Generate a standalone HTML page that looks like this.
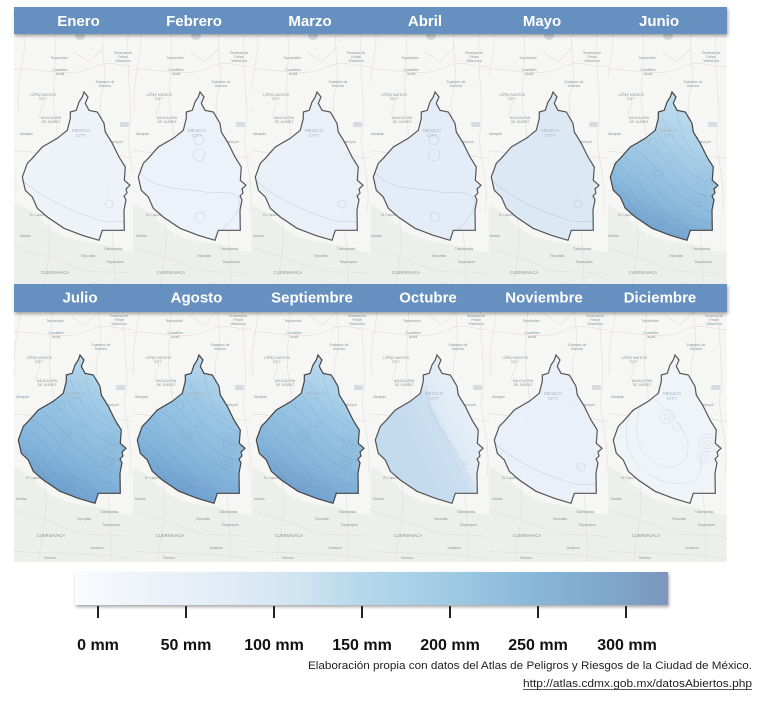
<!DOCTYPE html>
<html><head><meta charset="utf-8"><style>
html,body{margin:0;padding:0;background:#fff;}
svg{display:block;}
</style></head><body>
<svg width="763" height="701" viewBox="0 0 763 701" xmlns="http://www.w3.org/2000/svg" font-family="'Liberation Sans', sans-serif">
<defs>
  <path id="cdmx" d="M0,0 L4,5 L1.3,11.3 L5,18.3 L13.3,20 L20,31.3 L21.3,40 L28.3,51.3 L35,65 L41.3,75 L40.3,88.3 L46,93.3 L42,97 L43,101 L40,104 L42,108 L41.3,111.3 L40,118.3 L40.3,138.3 L18.3,138.3 L15,148.3 L-1.7,143.3 L-20,136.3 L-36.7,125 L-46.7,116.3 L-51.7,105 L-58.7,98.3 L-61.7,85 L-56.7,71.3 L-51.7,66.3 L-41.7,55 L-26.7,46.3 L-16.7,38.3 L-13.7,26.3 L-13.7,20 L-7.7,18.3 L-5,10 L-1.7,5 Z"/>
  <clipPath id="cc"><use href="#cdmx"/></clipPath>

  <linearGradient id="gJun" gradientUnits="userSpaceOnUse" x1="40" y1="10" x2="-20" y2="150">
    <stop offset="0" stop-color="#c4dff0"/>
    <stop offset="0.35" stop-color="#a7cee7"/>
    <stop offset="0.7" stop-color="#86b8dd"/>
    <stop offset="1" stop-color="#6496c7"/>
  </linearGradient>
  <linearGradient id="gJul" gradientUnits="userSpaceOnUse" x1="40" y1="20" x2="-20" y2="150">
    <stop offset="0" stop-color="#b4d6ec"/>
    <stop offset="0.35" stop-color="#93c3e3"/>
    <stop offset="0.7" stop-color="#7cb0da"/>
    <stop offset="1" stop-color="#6193c6"/>
  </linearGradient>
  <linearGradient id="gSep" gradientUnits="userSpaceOnUse" x1="40" y1="20" x2="-20" y2="150">
    <stop offset="0" stop-color="#bbdaee"/>
    <stop offset="0.35" stop-color="#96c5e4"/>
    <stop offset="0.7" stop-color="#7eb1da"/>
    <stop offset="1" stop-color="#6394c6"/>
  </linearGradient>
  <linearGradient id="gOct" gradientUnits="userSpaceOnUse" x1="-20" y1="100" x2="30" y2="75">
    <stop offset="0" stop-color="#c0d9ee"/>
    <stop offset="0.58" stop-color="#c8ddf0"/>
    <stop offset="0.68" stop-color="#dbe8f5"/>
    <stop offset="1" stop-color="#e2edf7"/>
  </linearGradient>
  <linearGradient id="gBar" x1="0" y1="0" x2="1" y2="0">
    <stop offset="0" stop-color="#fafbfd"/>
    <stop offset="0.1" stop-color="#eff4fa"/>
    <stop offset="0.25" stop-color="#e2ecf6"/>
    <stop offset="0.38" stop-color="#d0e4f1"/>
    <stop offset="0.48" stop-color="#b6d8ea"/>
    <stop offset="0.63" stop-color="#9fcbe3"/>
    <stop offset="0.78" stop-color="#87b6d9"/>
    <stop offset="0.92" stop-color="#7ea4ca"/>
    <stop offset="1" stop-color="#7b95be"/>
  </linearGradient>

  <filter id="sh" x="-5%" y="-50%" width="110%" height="200%">
    <feDropShadow dx="1" dy="2" stdDeviation="1.5" flood-color="#000" flood-opacity="0.35"/>
  </filter>

  <g id="bg">
    <rect x="-80" y="-65" width="140" height="285" fill="#f6f6f4"/>
    <path d="M-80,112 C-60,105 -45,130 -25,142 C-5,152 20,150 40,158 C50,162 55,158 60,160 L60,220 L-80,220 Z" fill="#edf0ea"/>
    <path d="M-80,30 C-72,50 -70,80 -66,100 L-80,110 Z" fill="#f0f2ee"/>
    <ellipse cx="-4" cy="-56" rx="5" ry="4" fill="#d3d8dc"/>
    <rect x="36" y="30" width="9" height="5" rx="1.5" fill="#d5dbe0"/>
    <g fill="none" stroke="#e4dcdc" stroke-width="0.6">
      <path d="M-80,-20 C-50,-30 -20,-10 10,-25 C30,-35 45,-20 60,-28"/>
      <path d="M-30,-65 C-25,-30 -35,0 -28,30 C-22,60 -40,90 -35,130 C-30,170 -45,190 -40,220"/>
      <path d="M20,-65 C15,-40 25,-20 18,0 C10,25 30,50 25,80 C20,110 35,150 30,220"/>
      <path d="M-80,60 C-50,55 -30,70 0,62 C25,55 40,70 60,65"/>
      <path d="M-80,150 C-55,160 -30,165 -10,175 C15,185 35,175 60,185"/>
      <path d="M-60,-65 C-55,-40 -70,-10 -65,20"/>
      <path d="M45,-65 C40,-30 50,10 45,40 C42,60 55,90 50,120"/>
      <path d="M-80,195 C-40,200 0,195 60,205"/>
      <path d="M-10,-40 L5,-30 L20,-45 M-50,0 L-40,10 L-45,25"/>
    </g>
    <g fill="#8d979f" font-size="3.4" text-anchor="middle">
      <text x="-25" y="-33">Tepotzotlán</text>
      <text x="-24" y="-21">Cuautitlán</text><text x="-24" y="-17">Izcalli</text>
      <text x="39" y="-38">Tecámac de</text><text x="39" y="-34">Felipe</text><text x="39" y="-30">Villanueva</text>
      <text x="21" y="-9">Ecatepec de</text><text x="21" y="-5">Morelos</text>
      <text x="-41" y="4">LÓPEZ MATEOS</text><text x="-41" y="8">CITY</text>
      <text x="-33" y="27">NAUCALPAN</text><text x="-33" y="31">DE JUÁREZ</text>
      <text x="27" y="51">Nezahualcóyotl</text>
      <text x="-64" y="43" text-anchor="start">Atizapán</text>
      <text x="-46" y="124">El Capulín</text>
      <text x="-64" y="145" text-anchor="start">Martha</text>
      <text x="29" y="158">Tlalnepantla</text>
      <text x="4" y="165">Tepoztlán</text>
      <text x="31" y="171">Tlayacapan</text>
      <text x="17" y="194">Yautepec</text>
      <text x="-30" y="204">Temixco</text>
    </g>
    <text x="-29" y="182" font-size="4.2" fill="#8a939b" text-anchor="middle">CUERNAVACA</text>
  </g>

  <g id="cityLbl" fill="#a9b5c1" font-size="4.6" text-anchor="middle">
    <text x="-3" y="40">MEXICO</text><text x="-3" y="45">CITY</text>
  </g>

  <g id="contB" fill="none" stroke="#34506e" stroke-opacity="0.2" stroke-width="0.45">
    <path d="M-62,80 C-45,90 -35,110 -20,125"/>
    <path d="M-58,70 C-40,80 -25,105 -10,118 C0,126 10,132 18,138"/>
    <path d="M-50,64 C-30,72 -20,95 -2,110 C10,120 25,128 40,132"/>
    <path d="M-40,56 C-25,62 -12,85 5,100 C18,110 30,118 42,120"/>
    <path d="M-28,48 C-15,55 -5,75 10,90 C20,100 32,104 42,106"/>
    <path d="M-16,40 C-8,50 0,65 14,78 C24,86 34,90 44,92"/>
    <path d="M-10,25 C-4,40 6,55 18,65 C28,72 36,76 42,78"/>
    <path d="M2,0 C6,30 12,55 24,62 C32,68 38,70 42,72"/>
    <path d="M-60,92 C-48,100 -40,115 -32,125"/>
    <path d="M-20,140 C-15,130 0,128 10,140"/>
    <circle cx="-14" cy="81" r="3"/><circle cx="-14" cy="81" r="6"/>
    <circle cx="0" cy="70" r="3"/>
    <circle cx="-19" cy="50" r="4"/>
    <circle cx="33" cy="88" r="3"/><circle cx="33" cy="88" r="6"/><circle cx="33" cy="88" r="9"/>
    <circle cx="28" cy="108" r="3"/><circle cx="28" cy="108" r="6"/>
    <circle cx="-12" cy="125" r="3"/><circle cx="-12" cy="125" r="6"/>
    <circle cx="30" cy="33" r="3"/><circle cx="30" cy="33" r="6"/>
  </g>
  <g id="contL" fill="none" stroke="#5a6a80" stroke-opacity="0.22" stroke-width="0.6">
    <path d="M-62,88 C-40,108 -10,120 15,128 C28,132 38,128 44,130"/>
    <circle cx="25" cy="112" r="4"/>
  </g>
  <g id="contF" fill="none" stroke="#5a6a80" stroke-opacity="0.22" stroke-width="0.6">
    <path d="M-62,78 C-45,100 -20,95 5,100 C20,103 35,95 40,110 C38,125 25,135 15,145"/>
    <circle cx="-1" cy="48" r="5"/><circle cx="-1" cy="63" r="6"/><circle cx="0" cy="125" r="5"/>
    <circle cx="35" cy="48" r="6"/>
  </g>
  <g id="contD" fill="none" stroke="#5a6a80" stroke-opacity="0.2" stroke-width="0.5">
    <path d="M-30,40 C-45,70 -40,100 -15,110 C5,118 20,100 10,80 C0,60 -15,45 -30,40 Z"/>
    <path d="M-40,50 C-60,80 -45,120 -5,128 C20,132 30,120 25,100"/>
    <circle cx="-8" cy="62" r="3"/><circle cx="-8" cy="62" r="7"/><circle cx="2" cy="72" r="4"/>
    <circle cx="33" cy="88" r="3"/><circle cx="33" cy="88" r="6"/><circle cx="33" cy="88" r="9"/>
    <circle cx="28" cy="102" r="3"/><circle cx="28" cy="102" r="6"/>
  </g>
</defs>

<!-- ROW 1 -->
<svg x="14" y="33" width="118.8" height="251" viewBox="-70 -59 118.8 251">
  <use href="#bg"/><use href="#cdmx" fill="#edf3fa" fill-opacity="0.9"/><use href="#cityLbl"/>
  <g clip-path="url(#cc)"><use href="#contL"/></g>
  <use href="#cdmx" fill="none" stroke="#555" stroke-width="1.2"/>
</svg>
<svg x="132.8" y="33" width="118.8" height="251" viewBox="-67.2 -59 118.8 251">
  <use href="#bg"/><use href="#cdmx" fill="#ebf2f9" fill-opacity="0.9"/><use href="#cityLbl"/>
  <g clip-path="url(#cc)"><use href="#contF"/></g>
  <use href="#cdmx" fill="none" stroke="#555" stroke-width="1.2"/>
</svg>
<svg x="251.6" y="33" width="118.8" height="251" viewBox="-65.4 -59 118.8 251">
  <use href="#bg"/><use href="#cdmx" fill="#e8f0f8" fill-opacity="0.9"/><use href="#cityLbl"/>
  <g clip-path="url(#cc)"><use href="#contL"/></g>
  <use href="#cdmx" fill="none" stroke="#555" stroke-width="1.2"/>
</svg>
<svg x="370.4" y="33" width="118.8" height="251" viewBox="-64.6 -59 118.8 251">
  <use href="#bg"/><use href="#cdmx" fill="#e2ecf6" fill-opacity="0.92"/><use href="#cityLbl"/>
  <g clip-path="url(#cc)"><use href="#contF"/></g>
  <use href="#cdmx" fill="none" stroke="#555" stroke-width="1.2"/>
</svg>
<svg x="489.2" y="33" width="118.8" height="251" viewBox="-63.8 -59 118.8 251">
  <use href="#bg"/><use href="#cdmx" fill="#d9e7f4" fill-opacity="0.93"/><use href="#cityLbl"/>
  <g clip-path="url(#cc)"><use href="#contL"/></g>
  <use href="#cdmx" fill="none" stroke="#555" stroke-width="1.2"/>
</svg>
<svg x="608" y="33" width="118.8" height="251" viewBox="-64 -59 118.8 251">
  <use href="#bg"/><use href="#cdmx" fill="url(#gJun)" fill-opacity="0.95"/><use href="#cityLbl"/>
  <g clip-path="url(#cc)"><use href="#contB"/></g>
  <use href="#cdmx" fill="none" stroke="#444" stroke-width="1.2"/>
</svg>

<!-- ROW 2 -->
<svg x="14" y="312" width="118.8" height="250" viewBox="-66 -43 118.8 250">
  <use href="#bg"/><use href="#cdmx" fill="url(#gJul)" fill-opacity="0.95"/><use href="#cityLbl"/>
  <g clip-path="url(#cc)"><use href="#contB"/></g>
  <use href="#cdmx" fill="none" stroke="#444" stroke-width="1.2"/>
</svg>
<svg x="132.8" y="312" width="118.8" height="250" viewBox="-66.2 -43 118.8 250">
  <use href="#bg"/><use href="#cdmx" fill="url(#gJul)" fill-opacity="0.95"/><use href="#cityLbl"/>
  <g clip-path="url(#cc)"><use href="#contB"/></g>
  <use href="#cdmx" fill="none" stroke="#444" stroke-width="1.2"/>
</svg>
<svg x="251.6" y="312" width="118.8" height="250" viewBox="-66.4 -43 118.8 250">
  <use href="#bg"/><use href="#cdmx" fill="url(#gSep)" fill-opacity="0.95"/><use href="#cityLbl"/>
  <g clip-path="url(#cc)"><use href="#contB"/></g>
  <use href="#cdmx" fill="none" stroke="#444" stroke-width="1.2"/>
</svg>
<svg x="370.4" y="312" width="118.8" height="250" viewBox="-66.6 -43 118.8 250">
  <use href="#bg"/><use href="#cdmx" fill="url(#gOct)" fill-opacity="0.93"/><use href="#cityLbl"/>
  <g clip-path="url(#cc)"><path d="M-10,30 C-12,45 -5,60 5,75 C15,90 25,110 40,135" fill="none" stroke="#5a6a80" stroke-opacity="0.2" stroke-width="0.6"/><circle cx="28" cy="108" r="2" fill="none" stroke="#5a6a80" stroke-opacity="0.25" stroke-width="0.5"/></g>
  <use href="#cdmx" fill="none" stroke="#555" stroke-width="1.2"/>
</svg>
<svg x="489.2" y="312" width="118.8" height="250" viewBox="-66.8 -43 118.8 250">
  <use href="#bg"/><use href="#cdmx" fill="#e8eff8" fill-opacity="0.92"/><use href="#cityLbl"/>
  <g clip-path="url(#cc)"><use href="#contL"/></g>
  <use href="#cdmx" fill="none" stroke="#555" stroke-width="1.2"/>
</svg>
<svg x="608" y="312" width="118.8" height="250" viewBox="-67 -43 118.8 250">
  <use href="#bg"/><use href="#cdmx" fill="#eef3f9" fill-opacity="0.92"/><use href="#cityLbl"/>
  <g clip-path="url(#cc)"><use href="#contD"/></g>
  <use href="#cdmx" fill="none" stroke="#555" stroke-width="1.2"/>
</svg>

<!-- Headers -->
<rect x="14" y="7" width="713" height="27" fill="#6690bf" filter="url(#sh)"/>
<rect x="14" y="284" width="713" height="28" fill="#6690bf" filter="url(#sh)"/>
<g fill="#fff" font-weight="bold" font-size="15" text-anchor="middle">
  <text x="78.5" y="26">Enero</text>
  <text x="194" y="26">Febrero</text>
  <text x="310" y="26">Marzo</text>
  <text x="425" y="26">Abril</text>
  <text x="542" y="26">Mayo</text>
  <text x="659" y="26">Junio</text>
  <text x="80" y="302.5">Julio</text>
  <text x="196.5" y="302.5">Agosto</text>
  <text x="312" y="302.5">Septiembre</text>
  <text x="428" y="302.5">Octubre</text>
  <text x="544" y="302.5">Noviembre</text>
  <text x="660" y="302.5">Diciembre</text>
</g>

<!-- Colorbar -->
<rect x="75" y="572" width="593" height="33" fill="url(#gBar)" filter="url(#sh)"/>
<g stroke="#222" stroke-width="2">
  <line x1="98" y1="606" x2="98" y2="618"/>
  <line x1="186" y1="606" x2="186" y2="618"/>
  <line x1="274" y1="606" x2="274" y2="618"/>
  <line x1="362" y1="606" x2="362" y2="618"/>
  <line x1="450" y1="606" x2="450" y2="618"/>
  <line x1="538" y1="606" x2="538" y2="618"/>
  <line x1="626" y1="606" x2="626" y2="618"/>
</g>
<g fill="#111" font-weight="bold" font-size="16" text-anchor="middle">
  <text x="98" y="650">0 mm</text>
  <text x="186" y="650">50 mm</text>
  <text x="274" y="650">100 mm</text>
  <text x="362" y="650">150 mm</text>
  <text x="450" y="650">200 mm</text>
  <text x="538" y="650">250 mm</text>
  <text x="627" y="650">300 mm</text>
</g>

<!-- Caption -->
<g fill="#222" font-size="11">
  <text x="308" y="669" textLength="444" lengthAdjust="spacingAndGlyphs">Elaboración propia con datos del Atlas de Peligros y Riesgos de la Ciudad de México.</text>
  <text x="523" y="687" textLength="229" lengthAdjust="spacingAndGlyphs">http://atlas.cdmx.gob.mx/datosAbiertos.php</text>
</g>
<line x1="523" y1="689.5" x2="752" y2="689.5" stroke="#222" stroke-width="0.8"/>
</svg>
</body></html>
